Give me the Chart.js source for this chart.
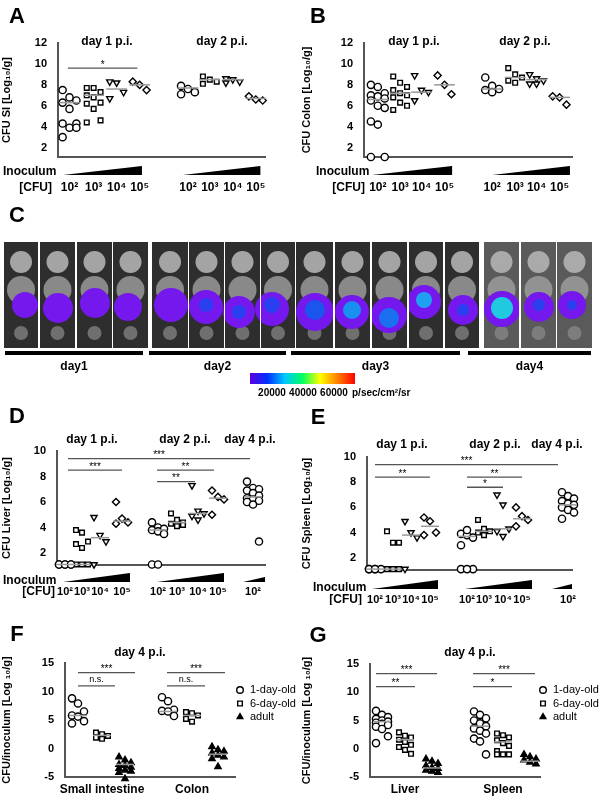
<!DOCTYPE html>
<html><head><meta charset="utf-8">
<script src="https://cdn.jsdelivr.net/npm/chart.js@4.4.0/dist/chart.umd.min.js"></script>
<style>body{margin:0;background:#fff;width:599px;height:800px;position:relative;overflow:hidden}canvas{position:absolute}</style>
</head><body>
<script>
// ---------- DATA ----------
const inocLabels = ['10²','10³','10⁴','10⁵'];
// Panel A: CFU SI
const aGroupX = [1,2.05,3.05,4.05,6.15,7.1,8.1,9.1];
const aValues = [[7.5,6.8,6.5,6.3,5.7,4.3,4.3,3.9,3.9,3.0],[7.7,7.7,7.3,7.0,6.8,6.3,6.2,5.7,4.6,4.4],[8.3,8.2,7.3,6.7],[8.3,8.0,7.5],
  [7.9,7.6,7.3,7.1],[8.8,8.5,8.3,8.1],[8.6,8.5,8.3,8.2],[6.9,6.6,6.5]];
const aMedians = [6.3,7.0,7.6,8.0,7.7,8.5,8.5,6.7];
// Panel B: CFU Colon
const bGroupX = [1.1,2.07,3.0,4.0,6.07,7.07,8.0,9.0];
const bValues = [[8.0,7.8,7.2,7.0,6.9,6.7,6.5,6.0,5.8,4.5,4.2,1.1,1.1],[8.8,8.2,7.8,7.5,7.2,7.0,6.8,6.3,6.0,5.6],[8.9,7.5,7.3,6.5],[8.9,8.0,7.1],
  [8.7,7.9,7.6,7.5,7.3],[9.6,9.0,8.7,8.4,8.2],[9.0,8.6,8.4,8.1,8.1],[6.9,6.8,6.1]];
const bMedians = [6.6,7.2,7.3,8.0,7.6,8.7,8.5,6.8];
// Panel D: CFU Liver
const dGroupX = [0.4,1.25,2.15,3.25,5.05,6.0,7.05,8.05,9.8];
const dValues = [[1.1,1.1,1.1,1.1,1.1,1.1],[3.8,3.6,2.9,2.7,2.4,1.1,1.1,1.1],[4.8,3.4,2.9,1.1],[6.0,4.7,4.4,4.3],
  [4.4,4.0,3.9,3.8,3.7,3.5,1.1,1.1],[5.1,4.6,4.4,4.3,4.1,4.2],[7.3,5.3,5.1,4.9,4.6],[6.9,6.4,6.2,5.0],
  [7.6,7.1,7.0,6.9,6.7,6.5,6.3,6.2,6.1,6.0,5.8,2.9]];
const dMedians = [1.1,1.1,3.2,4.5,3.8,4.4,5.1,6.3,6.4];
// Panel E: CFU Spleen
const eGroupX = [0.4,1.3,2.2,3.15,5.0,5.85,6.8,7.75,10.05];
const eValues = [[1.1,1.1,1.1,1.1,1.1],[4.1,3.2,3.2,1.1,1.1,1.1],[4.9,4.0,3.6,1.1],[5.2,4.9,4.0,3.8],
  [3.9,3.8,3.6,3.0,4.2,1.1,1.1,1.1],[5.0,4.3,4.1,4.0,3.8],[7.0,6.2,4.3,4.1,3.7],[6.0,5.3,5.0,4.5],
  [7.2,6.9,6.7,6.5,6.3,6.2,6.0,5.8,5.6,5.1]];
const eMedians = [1.1,1.1,3.8,4.5,3.7,4.1,4.3,5.1,6.2];
// Panel F: CFU/inoculum SI & colon
const fGroupX = [0.65,1.85,3.0,5.15,6.35,7.65];
const fValues = [[8.8,7.9,6.5,5.8,5.6,4.8,4.4],[2.8,2.5,2.2,1.9,1.7],[-1.5,-2,-2.5,-2.8,-3,-3.3,-3.5,-3.8,-4,-4.2,-5.3],
  [9.0,8.3,6.8,6.6,6.5,5.7],[6.4,6.2,5.8,5.2,4.7],[0.3,-0.2,-0.5,-0.8,-1.2,-1.5,-1.8,-3.2]];
const fMedians = [5.8,2.3,-2.8,6.5,5.8,-1.0];
// Panel G: CFU/inoculum liver & spleen
const gGroupX = [0.6,1.75,3.1,5.5,6.65,8.0];
const gValues = [[6.7,6.0,5.6,5.3,5.0,4.8,4.6,4.4,4.2,3.9,3.5,2.2,1.0],[2.9,2.3,2.0,1.6,1.2,0.7,0.3,-0.2,-0.9],[-1.8,-2.2,-2.6,-3.0,-3.3,-3.5,-3.8,-4.0,-4.2],
  [6.6,6.0,5.4,5.0,4.5,4.0,3.6,3.2,2.7,1.8,1.3,-1.0],[2.7,2.4,2.0,1.5,1.0,0.5,-0.4,-1.0,-1.0,-1.0],[-1.0,-1.4,-1.8,-2.0,-2.4,-2.7]];
const gMedians = [4.8,1.6,-3.4,4.0,1.2,-2.2];
const ageLabels = ['1-day-old','6-day-old .','adult'];
const ageLabelsG = ['1-day-old','6-day-old','adult'];
// Significance bars [x1,x2,y,label]
const aSig = [[0.93,3.95,9.6,'*']];
const dSig = [[0.55,9.65,9.4,'***'],[0.55,3.25,8.5,'***'],[5.0,7.85,8.5,'**'],[5.0,6.9,7.6,'**']];
const eSig = [[0.4,9.55,9.4,'***'],[0.4,3.15,8.4,'**'],[5.0,7.75,8.4,'**'],[5.0,6.8,7.6,'*']];
const fSig = [[0.65,3.5,13.3,'***'],[0.65,2.5,11.0,'n.s.'],[5.1,8.0,13.3,'***'],[5.1,7.0,11.0,'n.s.']];
const gSig = [[0.3,3.35,13.3,'***'],[0.3,2.25,11.0,'**'],[5.15,8.25,13.3,'***'],[5.15,7.1,11.0,'*']];
// Panel C imaging: photo panel edges, signal blobs
const cPanels = [[4,38],[40,75],[77,112],[113,148],[152,188],[189,224],[225,260],[261,295],[296,333],[335,370],[372,407],[409,443],[445,479],[484,519],[521,556],[557,592]];
const cBlobs = [[25,305,13],[58,308,15],[95,303,15],[128,307,14],[171,305,17],[206,307,17],[239,312,16],[272,309,17],[315,312,19],[352,312,17],[389,315,18],[424,302,17],[463,310,15],[502,309,18],[539,307,15],[572,305,14]];
const cCores = [[500,306,4,'#f0e020'],[502,308,7,'#90e040'],[502,308,11,'#20c8e0'],[206,305,7,'#2a3ff0'],[239,312,7,'#2a3ff0'],[272,305,8,'#2a3ff0'],[315,310,10,'#1a55ee'],[352,310,9,'#1890f0'],[389,318,10,'#1a70ee'],[424,300,8,'#20a0f0'],[463,310,6,'#2a3ff0'],[539,305,6,'#2a3ff0'],[572,305,5,'#2a3ff0']];
const cDays = [['day1',5,143],['day2',149,286],['day3',291,460],['day4',468,591]];
const cbarTicks = ['20000','40000','60000'];

// ---------- HELPERS ----------
const FONT = '"Liberation Sans", Arial, sans-serif';
function txt(ctx, s, x, y, size, bold, align) {
  ctx.save(); ctx.fillStyle = '#000'; ctx.font = (bold ? 'bold ' : '') + size + 'px ' + FONT;
  ctx.textAlign = align || 'center'; ctx.textBaseline = 'middle'; ctx.fillText(s, x, y); ctx.restore();
}
const styleSeq4 = [['circle',0],['rect',0],['triangle',180],['rectRot',0]];

function makePanel(cfg) {
  const cv = document.createElement('canvas');
  cv.style.left = cfg.box[0] + 'px'; cv.style.top = cfg.box[1] + 'px';
  cv.style.width = cfg.box[2] + 'px'; cv.style.height = cfg.box[3] + 'px';
  cv.width = cfg.box[2]; cv.height = cfg.box[3];
  document.body.appendChild(cv);
  const [L, T, R, B] = cfg.area, ox = cfg.box[0], oy = cfg.box[1];
  const datasets = cfg.values.map((vals, gi) => {
    const st = cfg.styles[gi];
    const n = vals.length;
    return {
      data: vals.map((v, i) => ({ x: cfg.groupX[gi] + (n > 1 ? ((i % 3) - 1) * 0.3 : 0), y: v })),
      pointStyle: st[0], rotation: st[1], pointRadius: st[0] === 'rect' ? 3.3 : 3.6,
      backgroundColor: st[2] ? '#000' : '#fff', borderColor: '#000', borderWidth: 1.4, showLine: false, clip: false
    };
  });
  const plugin = {
    id: 'deco' + cfg.name,
    afterDatasetsDraw(ch) {
      const ctx = ch.ctx, xs = ch.scales.x, ys = ch.scales.y;
      ctx.save();
      ctx.strokeStyle = '#999'; ctx.lineWidth = 1.5;
      cfg.medians.forEach((m, gi) => {
        ctx.beginPath(); ctx.moveTo(xs.getPixelForValue(cfg.groupX[gi] - 0.45), ys.getPixelForValue(m));
        ctx.lineTo(xs.getPixelForValue(cfg.groupX[gi] + 0.45), ys.getPixelForValue(m)); ctx.stroke();
      });
      ctx.strokeStyle = '#555'; ctx.lineWidth = 1.3;
      cfg.sig.forEach(s => {
        const y = ys.getPixelForValue(s[2]);
        ctx.beginPath(); ctx.moveTo(xs.getPixelForValue(s[0]), y); ctx.lineTo(xs.getPixelForValue(s[1]), y); ctx.stroke();
        const xm = (xs.getPixelForValue(s[0]) + xs.getPixelForValue(s[1])) / 2;
        txt(ctx, s[3], xm, y - (s[3] === 'n.s.' ? 6 : 3), s[3] === 'n.s.' ? 9 : 10, false);
      });
      ctx.restore();
    },
    afterDraw(ch) {
      const ctx = ch.ctx, xs = ch.scales.x;
      ctx.save(); ctx.translate(-ox, -oy);
      (cfg.texts || []).forEach(t => txt(ctx, t[0], t[1], t[2], t[3], t[4], t[5]));
      (cfg.wedges || []).forEach(w => {
        ctx.fillStyle = '#000'; ctx.beginPath();
        const x1 = xs.getPixelForValue(w[0]) + ox, x2 = xs.getPixelForValue(w[1]) + ox;
        ctx.moveTo(x1, w[3]); ctx.lineTo(x2, w[3]); ctx.lineTo(x2, w[2]); ctx.closePath(); ctx.fill();
      });
      (cfg.xlabels || []).forEach(l => txt(ctx, l[0], xs.getPixelForValue(l[1]) + ox, l[2], l[3], true));
      (cfg.legend || []).forEach((lg, i) => {
        const st = cfg.styles[i];
        const px = lg[1], py = lg[2];
        ctx.fillStyle = st[2] ? '#000' : '#fff'; ctx.strokeStyle = '#000'; ctx.lineWidth = 1.4;
        Chart.helpers.drawPoint(ctx, { pointStyle: st[0], rotation: st[1], radius: 3.3, borderWidth: 1.4 }, px, py);
        txt(ctx, lg[0], px + 10, py, 11, false, 'left');
      });
      ctx.restore();
    }
  };
  new Chart(cv, {
    type: 'scatter',
    data: { datasets },
    options: {
      responsive: false, animation: false, devicePixelRatio: 1,
      layout: { autoPadding: false, padding: { left: 0, top: T - oy, right: ox + cfg.box[2] - R, bottom: oy + cfg.box[3] - B } },
      plugins: { legend: { display: false }, tooltip: { enabled: false } },
      scales: {
        x: { type: 'linear', min: cfg.xr[0], max: cfg.xr[1], grid: { display: false, drawTicks: false },
             border: { color: '#555', width: 2 }, ticks: { display: false }, afterFit: s => { s.height = 0; } },
        y: { min: cfg.yr[0], max: cfg.yr[1], grid: { display: false }, border: { color: '#555', width: 2 },
             afterBuildTicks: s => { s.ticks = cfg.yticks.map(v => ({ value: v })); },
             ticks: { color: '#000', font: { family: FONT, size: 11, weight: 'bold' }, padding: 3 },
             title: { display: true, text: cfg.ytitle, color: '#000', font: { family: FONT, size: 11, weight: 'bold' }, padding: { top: 0, bottom: 2 } },
             afterFit: s => { s.width = L - ox; } }
      }
    },
    plugins: [plugin]
  });
}

const st9 = styleSeq4.concat(styleSeq4).concat([['circle',0]]);
const st6 = [['circle',0],['rect',0],['triangle',0,true],['circle',0],['rect',0],['triangle',0,true]];

makePanel({ name:'A', box:[0,0,290,200], area:[58,43,265,157], xr:[0.5,9.5], yr:[1.1,12], yticks:[2,4,6,8,10,12],
  groupX:aGroupX, values:aValues, medians:aMedians, styles:st9, sig:aSig, ytitle:'CFU SI [Log₁₀/g]',
  texts:[['A',17,17,22,true],['day 1 p.i.',107,42,12,true],['day 2 p.i.',222,42,12,true],['Inoculum',3,172,12,true,'left'],['[CFU]',52,188,12,true,'right']],
  wedges:[[0.72,4.15,166,175],[5.93,9.3,166,175]],
  xlabels:aGroupX.map((x,i)=>[inocLabels[i%4],x,188,12]) });
makePanel({ name:'B', box:[300,0,299,200], area:[364,43,572,157], xr:[0.5,9.54], yr:[1.1,12], yticks:[2,4,6,8,10,12],
  groupX:bGroupX, values:bValues, medians:bMedians, styles:st9, sig:[], ytitle:'CFU Colon [Log₁₀/g]',
  texts:[['B',318,17,22,true],['day 1 p.i.',414,42,12,true],['day 2 p.i.',525,42,12,true],['Inoculum',316,172,12,true,'left'],['[CFU]',365,188,12,true,'right']],
  wedges:[[0.85,4.33,166,175],[6.07,9.45,166,175]],
  xlabels:bGroupX.map((x,i)=>[inocLabels[i%4],x,188,12]) });
makePanel({ name:'D', box:[0,400,290,200], area:[57,451,265,565], xr:[0,10.4], yr:[1.06,10], yticks:[2,4,6,8,10],
  groupX:dGroupX, values:dValues, medians:dMedians, styles:st9, sig:dSig, ytitle:'CFU Liver [Log₁₀/g]',
  texts:[['D',17,417,22,true],['day 1 p.i.',92,440,12,true],['day 2 p.i.',185,440,12,true],['day 4 p.i.',250,440,12,true],['Inoculum',3,581,12,true,'left'],['[CFU]',55,592,12,true,'right']],
  wedges:[[0.3,3.65,573,582],[5.0,8.35,573,582],[9.3,10.4,577,582]],
  xlabels:dGroupX.map((x,i)=>[i===8?'10²':inocLabels[i%4],x,592,11]) });
makePanel({ name:'E', box:[300,400,299,205], area:[367,457,572,570], xr:[0,10.25], yr:[1.03,10], yticks:[2,4,6,8,10],
  groupX:eGroupX, values:eValues, medians:eMedians, styles:st9, sig:eSig, ytitle:'CFU Spleen [Log₁₀/g]',
  texts:[['E',318,418,22,true],['day 1 p.i.',402,445,12,true],['day 2 p.i.',495,445,12,true],['day 4 p.i.',557,445,12,true],['Inoculum',313,588,12,true,'left'],['[CFU]',362,600,12,true,'right']],
  wedges:[[0.25,3.55,580,589],[4.9,8.25,580,589],[9.25,10.25,584,589]],
  xlabels:eGroupX.map((x,i)=>[i===8?'10²':inocLabels[i%4],x,600,11]) });
makePanel({ name:'F', box:[0,615,300,185], area:[65,663,235,777], xr:[0,8.5], yr:[-5,15], yticks:[-5,0,5,10,15],
  groupX:fGroupX, values:fValues, medians:fMedians, styles:st6, sig:fSig, ytitle:'CFU/inoculum [Log ₁₀/g]',
  texts:[['F',17,635,22,true],['day 4 p.i.',140,653,12,true],['Small intestine',102,790,12,true],['Colon',192,790,12,true]],
  legend:ageLabels.map((l,i)=>[l,240,690+i*13.5]) });
makePanel({ name:'G', box:[300,615,299,185], area:[370,664,540,777], xr:[0,8.5], yr:[-5,15], yticks:[-5,0,5,10,15],
  groupX:gGroupX, values:gValues, medians:gMedians, styles:st6, sig:gSig, ytitle:'CFU/inoculum [Log ₁₀/g]',
  texts:[['G',318,636,22,true],['day 4 p.i.',470,653,12,true],['Liver',405,790,12,true],['Spleen',503,790,12,true]],
  legend:ageLabelsG.map((l,i)=>[l,543,690+i*13.5]) });

// ---------- PANEL C ----------
(function(){
  const oy = 200;
  const cv = document.createElement('canvas');
  cv.style.left='0px'; cv.style.top=oy+'px'; cv.width=599; cv.height=200; cv.style.width='599px'; cv.style.height='200px';
  document.body.appendChild(cv);
  const heads = cPanels.map(p => ({ x:(p[0]+p[1])/2, y:262 }));
  const bodies = cPanels.map(p => ({ x:(p[0]+p[1])/2, y:290 }));
  const legs = cPanels.map(p => ({ x:(p[0]+p[1])/2, y:333 }));
  // datasets with lower index are drawn on top
  new Chart(cv, {
    type:'scatter',
    data:{ datasets:[
      { data:cCores.map(b=>({x:b[0],y:b[1]})), pointRadius:cCores.map(b=>b[2]), backgroundColor:cCores.map(b=>b[3]), borderWidth:0 },
      { data:cBlobs.map(b=>({x:b[0],y:b[1]})), pointRadius:cBlobs.map(b=>b[2]), backgroundColor:'#7418ee', borderWidth:0 },
      { data:legs, backgroundColor:'rgba(140,140,140,0.7)', borderWidth:0, pointRadius:7 },
      { data:bodies, backgroundColor:'rgba(160,160,160,0.8)', borderWidth:0, pointRadius:14 },
      { data:heads, backgroundColor:'rgba(185,185,185,0.85)', borderWidth:0, pointRadius:11 }
    ]},
    options:{ responsive:false, animation:false, devicePixelRatio:1, layout:{padding:0, autoPadding:false},
      plugins:{legend:{display:false},tooltip:{enabled:false}},
      scales:{ x:{type:'linear',min:0,max:599,display:false}, y:{type:'linear',min:oy,max:oy+200,reverse:true,display:false} } },
    plugins:[{ id:'cbg',
      beforeDatasetsDraw(ch){ const ctx=ch.ctx, xs=ch.scales.x, ys=ch.scales.y;
        cPanels.forEach((p,i)=>{ ctx.fillStyle = i>=13 ? '#5a5a5a' : '#2e2e2e';
          const x1=xs.getPixelForValue(p[0]), x2=xs.getPixelForValue(p[1]);
          ctx.fillRect(x1, ys.getPixelForValue(242), x2-x1, ys.getPixelForValue(348)-ys.getPixelForValue(242)); });
        ctx.save(); ctx.beginPath();
        cPanels.forEach(p=>{ const x1=xs.getPixelForValue(p[0]), x2=xs.getPixelForValue(p[1]);
          ctx.rect(x1, ys.getPixelForValue(242), x2-x1, ys.getPixelForValue(348)-ys.getPixelForValue(242)); });
        ctx.clip(); ch.$cclip = true; },
      afterDatasetsDraw(ch){ const ctx=ch.ctx;
        if (ch.$cclip) { ctx.restore(); ch.$cclip = false; }
        ctx.save(); ctx.translate(0,-oy);
        cDays.forEach(d=>{ ctx.fillStyle='#000'; ctx.fillRect(d[1],351,d[2]-d[1],4); txt(ctx,d[0],(d[1]+d[2])/2,367,12,true); });
        const g = ctx.createLinearGradient(250,0,355,0);
        ['#5a00e0','#0030ff','#00c8ff','#00ff60','#ffff00','#ff8000','#ff0000'].forEach((c,i)=>g.addColorStop(i/6,c));
        ctx.fillStyle=g; ctx.fillRect(250,373,105,11);
        cbarTicks.forEach((t,i)=>txt(ctx,t,272+i*31,393,10,true));
        txt(ctx,'p/sec/cm²/sr',352,393,10,true,'left');
        txt(ctx,'C',17,216,22,true);
        ctx.restore(); } }]
  });
})();
</script>
</body></html>
